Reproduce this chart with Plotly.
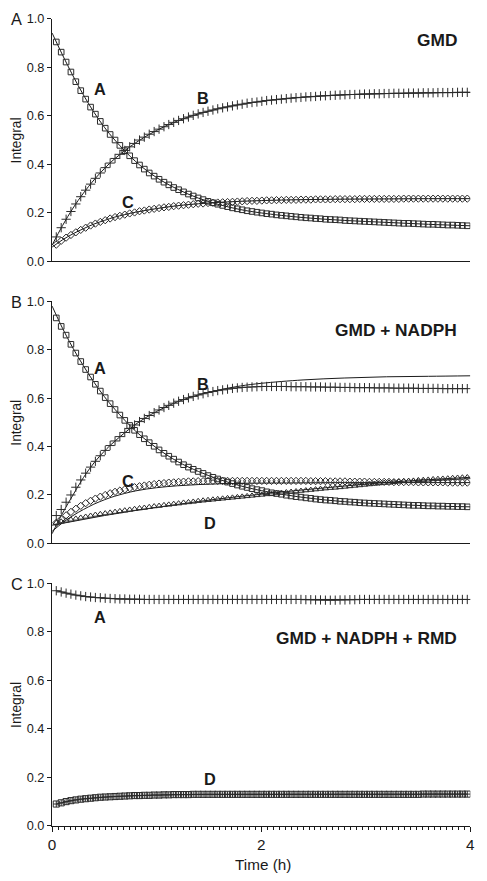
import plotly.graph_objects as go

# ---------------- data ----------------
t = [0.040, 0.087, 0.134, 0.180, 0.227, 0.274, 0.321, 0.368, 0.414, 0.461,
     0.508, 0.555, 0.602, 0.648, 0.695, 0.742, 0.789, 0.836, 0.882, 0.929,
     0.976, 1.023, 1.070, 1.116, 1.163, 1.210, 1.257, 1.304, 1.350, 1.397,
     1.444, 1.491, 1.538, 1.584, 1.631, 1.678, 1.725, 1.772, 1.818, 1.865,
     1.912, 1.959, 2.006, 2.052, 2.099, 2.146, 2.193, 2.240, 2.286, 2.333,
     2.380, 2.427, 2.474, 2.520, 2.567, 2.614, 2.661, 2.708, 2.754, 2.801,
     2.848, 2.895, 2.942, 2.988, 3.035, 3.082, 3.129, 3.176, 3.222, 3.269,
     3.316, 3.363, 3.410, 3.456, 3.503, 3.550, 3.597, 3.644, 3.690, 3.737,
     3.784, 3.831, 3.878, 3.924, 3.971]

# Panel A: GMD
gmd_A = [0.905, 0.863, 0.822, 0.781, 0.741, 0.704, 0.669, 0.636, 0.607, 0.577,
         0.549, 0.523, 0.500, 0.478, 0.456, 0.435, 0.415, 0.397, 0.380, 0.364,
         0.351, 0.338, 0.326, 0.315, 0.304, 0.295, 0.286, 0.277, 0.269, 0.261,
         0.254, 0.247, 0.241, 0.235, 0.230, 0.225, 0.220, 0.216, 0.212, 0.208,
         0.205, 0.202, 0.199, 0.196, 0.194, 0.191, 0.189, 0.187, 0.185, 0.183,
         0.181, 0.179, 0.178, 0.176, 0.175, 0.173, 0.172, 0.171, 0.170, 0.168,
         0.167, 0.166, 0.165, 0.164, 0.163, 0.162, 0.161, 0.160, 0.159, 0.158,
         0.157, 0.156, 0.156, 0.155, 0.154, 0.153, 0.152, 0.152, 0.151, 0.150,
         0.149, 0.149, 0.148, 0.147, 0.146]
gmd_B = [0.100, 0.138, 0.173, 0.205, 0.236, 0.266, 0.293, 0.318, 0.342, 0.364,
         0.386, 0.405, 0.424, 0.441, 0.457, 0.472, 0.486, 0.500, 0.512, 0.524,
         0.535, 0.545, 0.555, 0.564, 0.573, 0.581, 0.588, 0.595, 0.602, 0.608,
         0.614, 0.619, 0.624, 0.629, 0.633, 0.637, 0.641, 0.645, 0.648, 0.652,
         0.655, 0.657, 0.660, 0.663, 0.665, 0.667, 0.669, 0.671, 0.673, 0.675,
         0.676, 0.678, 0.679, 0.680, 0.682, 0.683, 0.684, 0.685, 0.686, 0.687,
         0.688, 0.688, 0.689, 0.690, 0.690, 0.691, 0.691, 0.692, 0.692, 0.693,
         0.693, 0.693, 0.694, 0.694, 0.694, 0.695, 0.695, 0.695, 0.696, 0.696,
         0.696, 0.696, 0.697, 0.697, 0.697]
gmd_C = [0.068, 0.084, 0.097, 0.108, 0.119, 0.129, 0.138, 0.147, 0.155, 0.162,
         0.169, 0.176, 0.182, 0.187, 0.192, 0.197, 0.201, 0.206, 0.209, 0.213,
         0.216, 0.219, 0.222, 0.224, 0.227, 0.229, 0.231, 0.233, 0.235, 0.237,
         0.238, 0.240, 0.241, 0.242, 0.243, 0.244, 0.245, 0.246, 0.247, 0.248,
         0.249, 0.249, 0.250, 0.251, 0.251, 0.252, 0.252, 0.253, 0.253, 0.253,
         0.254, 0.254, 0.254, 0.255, 0.255, 0.255, 0.255, 0.256, 0.256, 0.256,
         0.256, 0.256, 0.257, 0.257, 0.257, 0.257, 0.257, 0.257, 0.257, 0.257,
         0.257, 0.258, 0.258, 0.258, 0.258, 0.258, 0.258, 0.258, 0.258, 0.258,
         0.258, 0.258, 0.258, 0.258, 0.258]

# Panel B: GMD + NADPH
nadph_A = [0.931, 0.896, 0.860, 0.822, 0.786, 0.751, 0.718, 0.687, 0.657, 0.629,
           0.602, 0.577, 0.553, 0.530, 0.508, 0.487, 0.467, 0.449, 0.432, 0.416,
           0.401, 0.386, 0.372, 0.360, 0.348, 0.336, 0.325, 0.315, 0.306, 0.297,
           0.289, 0.280, 0.273, 0.266, 0.259, 0.253, 0.247, 0.241, 0.236, 0.231,
           0.226, 0.222, 0.218, 0.213, 0.209, 0.206, 0.203, 0.199, 0.196, 0.193,
           0.191, 0.188, 0.186, 0.183, 0.181, 0.179, 0.178, 0.176, 0.174, 0.173,
           0.171, 0.170, 0.168, 0.167, 0.166, 0.165, 0.164, 0.163, 0.162, 0.161,
           0.160, 0.159, 0.158, 0.157, 0.157, 0.156, 0.155, 0.155, 0.154, 0.154,
           0.153, 0.153, 0.152, 0.152, 0.151]
nadph_B = [0.115, 0.140, 0.170, 0.200, 0.232, 0.262, 0.290, 0.315, 0.339, 0.362,
           0.384, 0.404, 0.423, 0.441, 0.458, 0.474, 0.489, 0.503, 0.516, 0.528,
           0.540, 0.551, 0.561, 0.570, 0.579, 0.587, 0.594, 0.601, 0.607, 0.613,
           0.618, 0.623, 0.627, 0.631, 0.634, 0.637, 0.640, 0.642, 0.644, 0.645,
           0.646, 0.647, 0.648, 0.648, 0.648, 0.648, 0.648, 0.648, 0.647, 0.647,
           0.647, 0.647, 0.646, 0.646, 0.646, 0.645, 0.645, 0.645, 0.644, 0.644,
           0.644, 0.643, 0.643, 0.643, 0.643, 0.642, 0.642, 0.642, 0.642, 0.641,
           0.641, 0.641, 0.641, 0.641, 0.640, 0.640, 0.640, 0.640, 0.640, 0.639,
           0.639, 0.639, 0.639, 0.639, 0.639]
nadph_C = [0.085, 0.100, 0.116, 0.130, 0.143, 0.155, 0.166, 0.176, 0.185, 0.193,
           0.200, 0.207, 0.213, 0.218, 0.223, 0.228, 0.232, 0.236, 0.239, 0.242,
           0.245, 0.247, 0.249, 0.251, 0.252, 0.254, 0.255, 0.256, 0.256, 0.257,
           0.257, 0.258, 0.258, 0.258, 0.258, 0.258, 0.258, 0.258, 0.258, 0.258,
           0.258, 0.258, 0.258, 0.258, 0.258, 0.258, 0.258, 0.258, 0.258, 0.258,
           0.258, 0.258, 0.257, 0.257, 0.257, 0.257, 0.256, 0.256, 0.256, 0.256,
           0.255, 0.255, 0.255, 0.255, 0.254, 0.254, 0.254, 0.254, 0.254, 0.253,
           0.253, 0.253, 0.253, 0.253, 0.252, 0.252, 0.252, 0.252, 0.252, 0.252,
           0.251, 0.251, 0.251, 0.251, 0.251]
nadph_D = [0.085, 0.090, 0.094, 0.098, 0.102, 0.106, 0.110, 0.114, 0.118, 0.121,
           0.124, 0.127, 0.130, 0.133, 0.136, 0.139, 0.142, 0.145, 0.147, 0.150,
           0.153, 0.155, 0.158, 0.160, 0.163, 0.165, 0.168, 0.170, 0.172, 0.175,
           0.177, 0.179, 0.181, 0.183, 0.185, 0.187, 0.189, 0.191, 0.193, 0.195,
           0.197, 0.199, 0.201, 0.203, 0.205, 0.207, 0.209, 0.211, 0.213, 0.215,
           0.217, 0.219, 0.221, 0.223, 0.225, 0.227, 0.229, 0.230, 0.232, 0.234,
           0.236, 0.238, 0.240, 0.242, 0.244, 0.246, 0.248, 0.250, 0.251, 0.253,
           0.255, 0.257, 0.258, 0.259, 0.261, 0.262, 0.263, 0.265, 0.266, 0.267,
           0.268, 0.270, 0.271, 0.272, 0.273]

# Panel C: GMD + NADPH + RMD
rmd_A = [0.970, 0.965, 0.960, 0.956, 0.952, 0.949, 0.946, 0.944, 0.942, 0.941,
         0.939, 0.938, 0.937, 0.936, 0.936, 0.935, 0.935, 0.935, 0.934, 0.934,
         0.934, 0.934, 0.934, 0.934, 0.934, 0.934, 0.934, 0.934, 0.934, 0.934,
         0.934, 0.934, 0.934, 0.934, 0.934, 0.934, 0.934, 0.934, 0.934, 0.934,
         0.934, 0.934, 0.934, 0.934, 0.934, 0.934, 0.934, 0.934, 0.934, 0.934,
         0.934, 0.933, 0.933, 0.932, 0.932, 0.931, 0.931, 0.931, 0.932, 0.932,
         0.933, 0.933, 0.934, 0.934, 0.934, 0.934, 0.934, 0.934, 0.934, 0.934,
         0.934, 0.934, 0.934, 0.934, 0.934, 0.934, 0.934, 0.934, 0.934, 0.934,
         0.934, 0.934, 0.934, 0.934, 0.934]
rmd_D = [0.089, 0.094, 0.099, 0.103, 0.106, 0.109, 0.111, 0.113, 0.115, 0.117,
         0.118, 0.119, 0.120, 0.121, 0.122, 0.123, 0.124, 0.124, 0.125, 0.125,
         0.126, 0.126, 0.127, 0.127, 0.128, 0.128, 0.128, 0.128, 0.129, 0.129,
         0.129, 0.129, 0.129, 0.129, 0.129, 0.129, 0.129, 0.129, 0.129, 0.129,
         0.129, 0.129, 0.129, 0.129, 0.129, 0.129, 0.129, 0.129, 0.129, 0.129,
         0.129, 0.129, 0.129, 0.129, 0.129, 0.129, 0.129, 0.129, 0.129, 0.129,
         0.129, 0.129, 0.129, 0.129, 0.129, 0.129, 0.129, 0.129, 0.129, 0.129,
         0.129, 0.129, 0.129, 0.129, 0.129, 0.130, 0.130, 0.130, 0.130, 0.130,
         0.130, 0.130, 0.130, 0.130, 0.130]

# fitted curves
fit_t = [0, 0.1, 0.2, 0.3, 0.4, 0.5, 0.6, 0.8, 1.0, 1.2, 1.4, 1.6, 1.8, 2.0, 2.4, 2.8, 3.2, 3.6, 4.0]
gmd_A_fit = [0.942, 0.851, 0.765, 0.686, 0.615, 0.553, 0.500, 0.411, 0.345, 0.297, 0.260, 0.233, 0.213, 0.199, 0.180, 0.168, 0.160, 0.152, 0.146]
gmd_B_fit = [0.066, 0.147, 0.219, 0.281, 0.335, 0.382, 0.423, 0.489, 0.540, 0.579, 0.608, 0.630, 0.647, 0.660, 0.677, 0.687, 0.692, 0.695, 0.697]
gmd_C_fit = [0.058, 0.088, 0.113, 0.134, 0.153, 0.168, 0.182, 0.202, 0.217, 0.229, 0.237, 0.243, 0.247, 0.250, 0.254, 0.256, 0.257, 0.258, 0.258]
nadph_A_fit = [0.980, 0.888, 0.806, 0.733, 0.666, 0.606, 0.554, 0.463, 0.394, 0.338, 0.297, 0.264, 0.238, 0.218, 0.190, 0.172, 0.162, 0.155, 0.151]
nadph_B_fit = [0.040, 0.125, 0.200, 0.272, 0.332, 0.381, 0.422, 0.492, 0.545, 0.585, 0.613, 0.634, 0.650, 0.661, 0.675, 0.683, 0.688, 0.690, 0.692]
nadph_C_fit = [0.050, 0.085, 0.115, 0.140, 0.162, 0.180, 0.195, 0.217, 0.230, 0.238, 0.243, 0.246, 0.248, 0.249, 0.250, 0.251, 0.251, 0.251, 0.251]
nadph_D_fit = [0.075, 0.083, 0.091, 0.099, 0.107, 0.115, 0.122, 0.136, 0.149, 0.161, 0.173, 0.184, 0.194, 0.203, 0.221, 0.237, 0.252, 0.263, 0.273]

y_ticks = [0.0, 0.2, 0.4, 0.6, 0.8, 1.0]
y_ticktext = ["0.0", "0.2", "0.4", "0.6", "0.8", "1.0"]
x_label_ticks = [0, 2, 4]

panel_titles = ["GMD", "GMD + NADPH", "GMD + NADPH + RMD"]
panel_letters = ["A", "B", "C"]

# ---------------- figure ----------------
W, H = 487, 881
FONT = "Arial, Liberation Sans, Helvetica, sans-serif"
INK = "#1a1a1a"
MK = "#2b2b2b"

# the captured picture comes out slightly shrunk about its centre; compensate
S = 0.981
CX, CY = W / 2, H / 2


def px_x(px):
    return (CX + (px - CX) / S) / W


def px_y(py):
    return 1 - (CY + (py - CY) / S) / H


def fs(size):
    return size / S


# plot area pixel boxes in the reference picture
x_left, x_right = 52.7, 470.7
rows = [(19.3, 261.0), (301.0, 542.7), (582.7, 824.3)]
title_y = [40, 329.3, 637.5]

fig = go.Figure()

sym = {"sq": "square-open", "plus": "cross-thin-open", "dia": "diamond-open",
       "tri": "triangle-up-open", "sqx": "square-cross-open"}

panels = [
    [(gmd_A, "sq", 5.5, gmd_A_fit), (gmd_B, "plus", 6.5, gmd_B_fit), (gmd_C, "dia", 5.5, gmd_C_fit)],
    [(nadph_A, "sq", 5.5, nadph_A_fit), (nadph_B, "plus", 6.5, nadph_B_fit),
     (nadph_C, "dia", 5.5, nadph_C_fit), (nadph_D, "tri", 5.5, nadph_D_fit)],
    [(rmd_A, "plus", 6.5, None), (rmd_D, "sqx", 6, None)],
]

for p, series in enumerate(panels):
    xa = "x" if p == 0 else f"x{p+1}"
    ya = "y" if p == 0 else f"y{p+1}"
    for vals, s, size, fit in series:
        if fit is not None:
            fig.add_trace(go.Scatter(x=fit_t, y=fit, mode="lines", xaxis=xa, yaxis=ya,
                                     line=dict(color=INK, width=1, shape="spline", smoothing=1.0),
                                     showlegend=False, hoverinfo="skip"))
            mode = "markers"
        else:
            mode = "lines+markers"
        fig.add_trace(go.Scatter(x=t, y=vals, mode=mode, xaxis=xa, yaxis=ya,
                                 line=dict(color=INK, width=1),
                                 marker=dict(symbol=sym[s], size=fs(size), color=MK,
                                             line=dict(color=MK, width=1)),
                                 showlegend=False))

layout = dict(width=W, height=H, margin=dict(l=0, r=0, t=0, b=0, pad=0),
              paper_bgcolor="white", plot_bgcolor="white",
              font=dict(family=FONT, color=INK, size=12), showlegend=False)

major_x = [k * 2 / 7 for k in range(15)]
major_txt = [str(round(v)) if any(abs(v - x) < 1e-6 for x in x_label_ticks) else "" for v in major_x]
minor_x = [k * 2 / 35 for k in range(71)]

for p, (top, bot) in enumerate(rows):
    sfx = "" if p == 0 else str(p + 1)
    xdict = dict(domain=[px_x(x_left), px_x(x_right)], range=[0, 4], anchor="y" + sfx,
                 showline=True, linecolor=INK, linewidth=1.3, showgrid=False, zeroline=False,
                 fixedrange=True)
    if p < 2:
        xdict.update(ticks="", showticklabels=False)
    else:
        xdict.update(tickmode="array", tickvals=major_x, ticktext=major_txt,
                     ticks="outside", ticklen=5, tickwidth=1, tickcolor=INK,
                     tickfont=dict(size=fs(15), family=FONT, color=INK),
                     minor=dict(tickmode="array", tickvals=minor_x, ticks="outside",
                                ticklen=3, tickwidth=1, tickcolor=INK, showgrid=False))
    ydict = dict(domain=[px_y(bot), px_y(top)], range=[0, 1.0], anchor="x" + sfx,
                 showline=True, linecolor=INK, linewidth=1.3, showgrid=False, zeroline=False,
                 tickmode="array", tickvals=y_ticks, ticktext=y_ticktext,
                 ticks="outside", ticklen=4, tickwidth=1, tickcolor=INK,
                 tickfont=dict(size=fs(12.5), family=FONT, color=INK), fixedrange=True)
    layout["xaxis" + sfx] = xdict
    layout["yaxis" + sfx] = ydict

fig.update_layout(**layout)

ann = []


def add_text(text, px, py, size, bold=False, xanchor="center", angle=0):
    ann.append(dict(text=f"<b>{text}</b>" if bold else text, x=px_x(px), y=px_y(py),
                    xref="paper", yref="paper", showarrow=False, xanchor=xanchor,
                    yanchor="middle", textangle=angle,
                    font=dict(size=fs(size), family=FONT, color=INK)))


for p, (top, bot) in enumerate(rows):
    add_text(panel_letters[p], 17.5, top + 0.5, 16)
    add_text("Integral", 17, (top + bot) / 2, 13.5, angle=-90)
    add_text(panel_titles[p], 459, title_y[p], 17, bold=True, xanchor="right")

# curve labels
add_text("A", 100.3, 89.2, 16, bold=True)
add_text("B", 204, 98.3, 16, bold=True)
add_text("C", 128.3, 201.7, 16, bold=True)
add_text("A", 100.3, 367.3, 16, bold=True)
add_text("B", 204, 384, 16, bold=True)
add_text("C", 128.3, 480.7, 16, bold=True)
add_text("D", 210.7, 522.7, 16, bold=True)
add_text("A", 100.7, 616, 16, bold=True)
add_text("D", 210.7, 778.3, 16, bold=True)

add_text("Time (h)", 263.3, 863, 15)

fig.update_layout(annotations=ann)
fig.write_html("out.html", config={"displayModeBar": False},
               post_script="document.body.style.margin='0';document.body.style.overflow='hidden';")
